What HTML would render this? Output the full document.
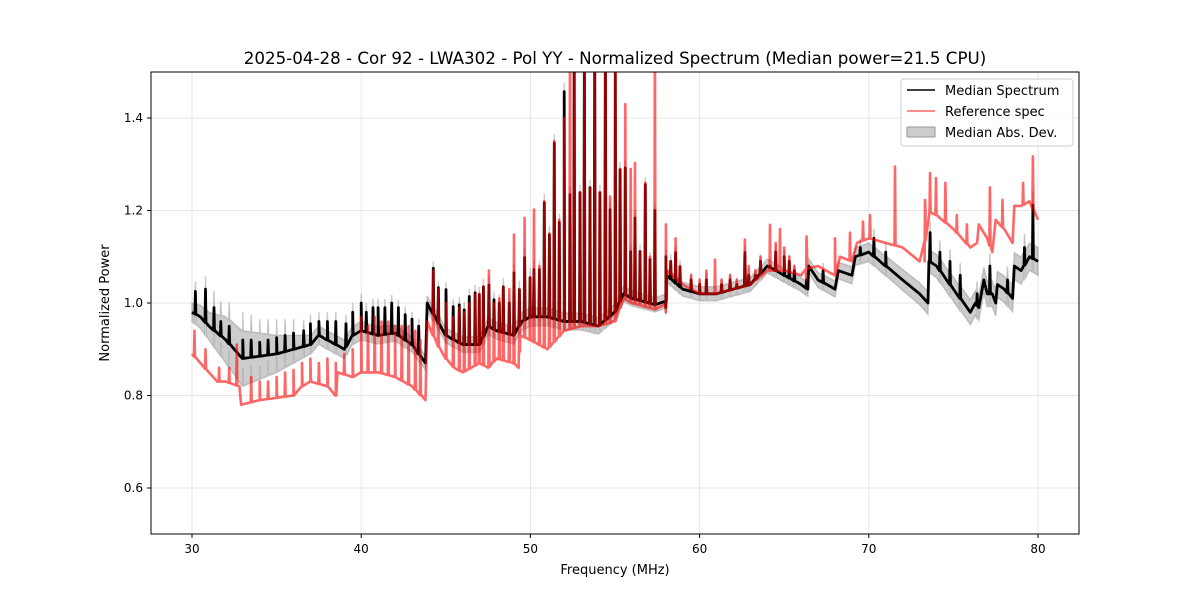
<!DOCTYPE html>
<html><head><meta charset="utf-8"><style>
body{margin:0;background:#fff;font-family:"Liberation Sans","DejaVu Sans",sans-serif}
svg text{font-family:"DejaVu Sans","Liberation Sans",sans-serif}
</style></head><body>
<svg id="chart" width="1200" height="600" xmlns="http://www.w3.org/2000/svg">
<rect width="1200" height="600" fill="#fff"/>
<text x="615" y="64" font-size="16.7" text-anchor="middle">2025-04-28 - Cor 92 - LWA302 - Pol YY - Normalized Spectrum (Median power=21.5 CPU)</text>
<defs><clipPath id="pc"><rect x="151" y="72" width="928" height="462"/></clipPath></defs>
<g id="grid"></g>
<g id="plot" clip-path="url(#pc)"></g>
<rect x="151" y="72" width="928" height="462" fill="none" stroke="#000" stroke-width="1"/>
<g id="ticks"></g>
<text x="615" y="574" font-size="13" text-anchor="middle">Frequency (MHz)</text>
<text transform="translate(109,303) rotate(-90)" font-size="13" text-anchor="middle">Normalized Power</text>
<g>
<rect x="901" y="79" width="172" height="67" rx="3" fill="#fff" fill-opacity="0.8" stroke="#ccc"/>
<line x1="907" y1="90" x2="935" y2="90" stroke="#000" stroke-width="1.5"/>
<text x="945" y="95" font-size="13">Median Spectrum</text>
<line x1="907" y1="111" x2="935" y2="111" stroke="#ff0000" stroke-opacity="0.6" stroke-width="1.5"/>
<text x="945" y="116" font-size="13">Reference spec</text>
<rect x="907" y="127" width="28" height="10" fill="#999" fill-opacity="0.5" stroke="#999"/>
<text x="945" y="137" font-size="13">Median Abs. Dev.</text>
</g>
</svg>
<script>
const xTicks=[30,40,50,60,70,80];
const yTicks=[0.6,0.8,1.0,1.2,1.4];
const medFreq=[30,30.5,31,32,32.5,33,34,35,36,37,37.5,38,39,39.5,40,41,42,43,43.8,43.9,44.5,45,46,47,47.5,48,49,49.5,50,51,52,53,54,55,55.5,56,57,58,58.05,59,60,61,62,63,64,65,66,66.4,66.45,67,68,68.2,69,69.2,70,71,72,73,73.5,73.55,74,75,76,76.3,76.5,76.8,77,77.3,77.5,77.6,78,78.5,78.6,79,79.5,80];
const medVal=[0.98,0.97,0.95,0.92,0.90,0.88,0.885,0.89,0.90,0.91,0.93,0.92,0.90,0.93,0.94,0.93,0.935,0.91,0.87,1.0,0.96,0.93,0.91,0.91,0.95,0.94,0.93,0.96,0.97,0.97,0.96,0.96,0.95,0.98,1.02,1.01,1.0,0.99,1.06,1.03,1.02,1.02,1.03,1.04,1.08,1.06,1.04,1.03,1.08,1.05,1.03,1.07,1.06,1.10,1.11,1.08,1.05,1.02,1.0,1.09,1.08,1.03,0.98,1.0,0.99,1.05,1.02,1.02,1.0,1.04,1.03,1.01,1.08,1.07,1.10,1.09];
const refFreq=[30,30.5,31,31.5,32,32.8,32.9,34,35,36,36.5,37,38,38.5,38.6,39.5,40,41,42,43,43.8,43.9,44.5,45,45.5,46,47,47.5,48,49,49.3,49.4,50,51,52,53,54,55,55.5,56,57,58,58.05,59,60,61,62,63,64,65,66,66.3,66.35,67,68,68.3,69,69.3,70,71,72,73,73.3,73.35,74,75,76,76.4,76.5,77,77.3,77.5,78,78.5,78.6,79,79.5,80];
const refVal=[0.89,0.87,0.85,0.83,0.83,0.82,0.78,0.79,0.795,0.80,0.82,0.83,0.82,0.80,0.85,0.84,0.85,0.85,0.84,0.82,0.79,0.96,0.91,0.88,0.86,0.85,0.87,0.86,0.88,0.87,0.86,0.93,0.92,0.90,0.94,0.95,0.95,0.96,1.01,1.0,0.99,0.98,1.07,1.04,1.02,1.02,1.03,1.04,1.07,1.07,1.06,1.05,1.11,1.08,1.06,1.10,1.09,1.13,1.14,1.13,1.12,1.09,1.09,1.20,1.19,1.16,1.12,1.13,1.17,1.14,1.11,1.18,1.16,1.13,1.21,1.21,1.22,1.18];
const madFreq=[30,31,32,33,34,35,36,37,40,44,50,58,66,70,74,80];
const madVal=[0.02,0.03,0.05,0.06,0.05,0.04,0.03,0.02,0.02,0.015,0.02,0.015,0.015,0.02,0.025,0.03];
const medSpikeFreq=[30.2,30.8,31.3,31.7,32.2,33.0,33.5,34.0,34.5,35.0,35.5,36.0,36.6,37.0,37.5,38.0,38.5,39.1,39.5,40.0,40.3,40.7,41.0,41.4,41.8,42.2,42.6,43.0,43.4,
44.26,44.56,45.01,45.44,45.80,46.09,46.39,46.73,46.98,47.22,47.55,47.85,48.16,48.40,48.75,49.03,49.35,49.66,49.98,50.21,50.53,50.82,51.12,51.41,51.71,52.00,52.34,52.59,52.93,53.19,53.52,53.80,54.11,54.43,54.71,55.02,55.30,55.61,55.93,56.18,56.48,56.79,57.07,57.36,58.01,58.29,58.58,58.84,
59.5,60.0,60.4,61.3,61.8,62.2,62.68,62.9,63.3,63.6,64.16,64.5,65.0,65.3,65.6,66.32,67.3,69.5,70.3,71.0,73.62,74.2,74.8,75.4,76.4,77.16,78.2,79.2,79.7];
const medSpikeVal=[1.025,1.03,0.99,0.96,0.95,0.92,0.92,0.915,0.92,0.925,0.93,0.935,0.94,0.955,0.96,0.96,0.96,0.955,0.98,1.0,0.98,0.99,0.99,0.99,1.0,0.99,0.975,0.965,0.95,
1.075,1.033,1.029,0.992,0.996,0.985,1.014,1.022,1.018,1.035,1.039,1.007,1.0,1.035,1.0,1.065,1.029,1.098,1.055,1.072,1.072,1.217,1.148,1.346,1.174,1.457,1.234,1.6,1.238,1.6,1.249,1.6,1.238,1.6,1.202,1.5,1.288,1.292,1.111,1.184,1.111,1.256,1.094,1.2,1.10,1.09,1.109,1.078,
1.05,1.04,1.05,1.04,1.05,1.04,1.109,1.06,1.06,1.09,1.08,1.11,1.10,1.09,1.07,1.05,1.07,1.12,1.14,1.11,1.152,1.11,1.09,1.06,1.02,1.08,1.05,1.12,1.212];
const refSpikeFreq=[30.15,30.8,31.6,32.2,32.65,33.5,34.0,34.5,35.0,35.5,36.0,36.5,37.0,37.5,38.0,38.5,39.0,39.5,40.0,40.4,40.8,41.2,41.6,42.0,42.4,42.8,43.2,43.5,
44.26,44.56,45.01,45.44,45.80,46.09,46.39,46.73,46.98,47.22,47.55,47.85,48.16,48.40,48.75,49.03,49.35,49.66,49.98,50.21,50.53,50.82,51.12,51.41,51.71,52.00,52.34,52.59,52.93,53.19,53.52,53.80,54.11,54.43,54.71,55.02,55.30,55.61,55.93,56.18,56.48,56.79,57.07,57.36,58.01,58.29,58.58,58.84,
59.5,60.0,60.4,60.91,61.3,61.8,62.2,62.68,62.9,63.3,63.6,64.16,64.5,64.75,65.0,65.3,65.6,66.32,68.0,68.89,69.66,70.07,71.55,73.32,73.62,73.97,74.53,75.2,75.8,77.16,77.9,79.12,79.7];
const refSpikeVal=[0.94,0.90,0.86,0.86,0.91,0.84,0.83,0.83,0.84,0.85,0.855,0.87,0.88,0.87,0.88,0.87,0.89,0.90,0.97,0.95,0.97,0.96,0.96,0.95,0.95,0.95,0.94,0.92,
1.07,1.03,1.0,0.97,0.99,0.98,1.0,1.02,1.02,1.035,1.07,1.0,1.01,1.035,1.03,1.148,1.03,1.184,1.055,1.202,1.08,1.22,1.15,1.35,1.18,1.40,1.6,1.6,1.24,1.6,1.25,1.6,1.24,1.6,1.23,1.6,1.29,1.43,1.29,1.303,1.11,1.26,1.10,1.6,1.17,1.09,1.14,1.08,
1.06,1.05,1.07,1.094,1.05,1.06,1.05,1.137,1.08,1.07,1.10,1.169,1.13,1.16,1.12,1.10,1.08,1.144,1.14,1.152,1.176,1.19,1.295,1.223,1.281,1.27,1.26,1.19,1.17,1.25,1.223,1.26,1.317];

const X0=192,PXF=16.92,Y0=303,PXV=462.5;
const sx=f=>X0+(f-30)*PXF;
const sy=v=>Y0-(v-1.0)*PXV;
function interp(fs,vs,f){
  if(f<=fs[0])return vs[0];
  for(let i=1;i<fs.length;i++){if(f<=fs[i]){const t=(f-fs[i-1])/(fs[i]-fs[i-1]);return vs[i-1]+t*(vs[i]-vs[i-1]);}}
  return vs[vs.length-1];
}
function seriesPts(bf,bv,spf,spv){
  let pts=bf.map((f,i)=>[f,bv[i]]);
  spf.forEach((f,i)=>{const b=interp(bf,bv,f);pts.push([f-0.03,b],[f,spv[i]],[f+0.03,b]);});
  pts.sort((a,b)=>a[0]-b[0]);
  return pts;
}
const NS="http://www.w3.org/2000/svg";
const grid=document.getElementById('grid'),plot=document.getElementById('plot'),ticks=document.getElementById('ticks');
function mk(tag,at,parent){const e=document.createElementNS(NS,tag);for(const k in at)e.setAttribute(k,at[k]);parent.appendChild(e);return e;}
xTicks.forEach(t=>{
  const gl=mk('line',{x1:sx(t),x2:sx(t),y1:72,y2:534,stroke:'#e6e6e6','stroke-width':1},grid);
  
  
  const tk=mk('line',{x1:sx(t),x2:sx(t),y1:534,y2:538,stroke:'#000'},ticks);
  
  
  const tx=mk('text',{x:sx(t),y:553,'font-size':12,'text-anchor':'middle'},ticks);
  tx.textContent=t;
  
  
});
yTicks.forEach(t=>{
  const gl=mk('line',{x1:151,x2:1079,y1:sy(t),y2:sy(t),stroke:'#e6e6e6','stroke-width':1},grid);
  
  
  const tk=mk('line',{x1:147,x2:151,y1:sy(t),y2:sy(t),stroke:'#000'},ticks);
  
  
  const tx=mk('text',{x:143,y:sy(t)+4,'font-size':12,'text-anchor':'end'},ticks);
  tx.textContent=t.toFixed(1);
  
  
});
const med=seriesPts(medFreq,medVal,medSpikeFreq,medSpikeVal);
const ref=seriesPts(refFreq,refVal,refSpikeFreq,refSpikeVal);
let up=med.map(p=>[p[0],p[1]+interp(madFreq,madVal,p[0])]);
let dn=med.map(p=>[p[0],p[1]-interp(madFreq,madVal,p[0])]).reverse();
const bandD='M'+up.concat(dn).map(p=>sx(p[0]).toFixed(1)+','+sy(p[1]).toFixed(1)).join('L')+'Z';
const band=mk('path',{d:bandD,fill:'#999','fill-opacity':0.5,stroke:'#999','stroke-opacity':0.5,'stroke-width':1.5},plot);


const lineD=pts=>'M'+pts.map(p=>sx(p[0]).toFixed(1)+','+sy(p[1]).toFixed(1)).join('L');
const ml=mk('path',{d:lineD(med),fill:'none',stroke:'#000','stroke-width':2.8,'stroke-linejoin':'round'},plot);


const rl=mk('path',{d:lineD(ref),fill:'none',stroke:'#ff0000','stroke-opacity':0.6,'stroke-width':2.6,'stroke-linejoin':'round'},plot);


</script>
</body></html>
